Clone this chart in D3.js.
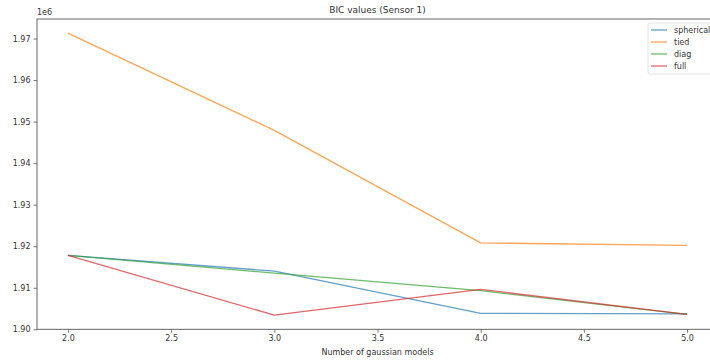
<!DOCTYPE html>
<html>
<head>
<meta charset="utf-8">
<script src="https://cdn.jsdelivr.net/npm/d3@7"></script>
<style>
  body { margin: 0; background: #fff; overflow: hidden; }
  svg { display: block; font-family: "DejaVu Sans", sans-serif; }
</style>
</head>
<body>
<svg id="chart" width="710" height="360"></svg>
<script>
const xValues = [2, 3, 4, 5];
const seriesNames = ["spherical", "tied", "diag", "full"];
const spherical = [1.9178e6, 1.9140e6, 1.90385e6, 1.90370e6];
const tied = [1.9713e6, 1.9479e6, 1.9208e6, 1.9202e6];
const diag = [1.9178e6, 1.9135e6, 1.9093e6, 1.9036e6];
const full = [1.9178e6, 1.9034e6, 1.9096e6, 1.9036e6];
const xTicks = [2.0, 2.5, 3.0, 3.5, 4.0, 4.5, 5.0];
const yTicks = [1.90e6, 1.91e6, 1.92e6, 1.93e6, 1.94e6, 1.95e6, 1.96e6, 1.97e6];
const colors = ["#1f77b4", "#ff7f0e", "#2ca02c", "#d62728"];
const seriesValues = [spherical, tied, diag, full];

const svg = d3.select("#chart");
const m = { left: 37, right: 718, top: 19, bottom: 329.3 };

const x = d3.scaleLinear().domain([1.85, 5.15]).range([m.left, m.right]);
const y = d3.scaleLinear().domain([1.90e6, 1.9747e6]).range([m.bottom, m.top]);

const textColor = "#333";
const axisColor = "#555";

// lines
const line = d3.line().x((d, i) => x(xValues[i])).y(d => y(d));
seriesValues.forEach((vals, k) => {
  svg.append("path")
    .datum(vals)
    .attr("d", line)
    .attr("fill", "none")
    .attr("stroke", colors[k])
    .attr("stroke-opacity", 0.7)
    .attr("stroke-width", 1.3)
    .attr("stroke-linejoin", "round");
});

// axes
const xAxis = d3.axisBottom(x).tickValues(xTicks).tickFormat(d3.format(".1f")).tickSize(3.5).tickPadding(3);
const yAxis = d3.axisLeft(y).tickValues(yTicks).tickFormat(d => (d / 1e6).toFixed(2)).tickSize(3.5).tickPadding(3);

const gx = svg.append("g").attr("transform", `translate(0,${m.bottom})`).call(xAxis);
const gy = svg.append("g").attr("transform", `translate(${m.left},0)`).call(yAxis);
[gx, gy].forEach(g => {
  g.select(".domain").remove();
  g.selectAll(".tick line").attr("stroke", axisColor).attr("stroke-width", 0.8);
  g.selectAll(".tick text").attr("fill", textColor).attr("font-size", 8).attr("font-family", "DejaVu Sans");
});

// spines
svg.append("rect")
  .attr("x", m.left).attr("y", m.top)
  .attr("width", m.right - m.left).attr("height", m.bottom - m.top)
  .attr("fill", "none").attr("stroke", axisColor).attr("stroke-width", 0.9);

// offset text
svg.append("text").attr("x", m.left).attr("y", 15)
  .attr("font-size", 8).attr("fill", textColor).text("1e6");

// title
svg.append("text").attr("x", (m.left + m.right) / 2).attr("y", 13)
  .attr("text-anchor", "middle").attr("font-size", 9).attr("fill", textColor)
  .text("BIC values (Sensor 1)");

// x label
svg.append("text").attr("x", (m.left + m.right) / 2).attr("y", 355)
  .attr("text-anchor", "middle").attr("font-size", 8).attr("fill", textColor)
  .text("Number of gaussian models");

// legend
const lg = svg.append("g").attr("transform", "translate(648,23)");
lg.append("rect").attr("x", 0).attr("y", 0).attr("width", 80).attr("height", 51)
  .attr("rx", 2).attr("fill", "#fff").attr("fill-opacity", 0.8)
  .attr("stroke", "#ddd").attr("stroke-width", 0.8);
seriesNames.forEach((name, k) => {
  const yy = 7 + k * 12;
  lg.append("line").attr("x1", 3).attr("x2", 19).attr("y1", yy).attr("y2", yy)
    .attr("stroke", colors[k]).attr("stroke-opacity", 0.7).attr("stroke-width", 1.3);
  lg.append("text").attr("x", 26).attr("y", yy + 3).attr("font-size", 8)
    .attr("fill", textColor).text(name);
});
</script>
</body>
</html>
